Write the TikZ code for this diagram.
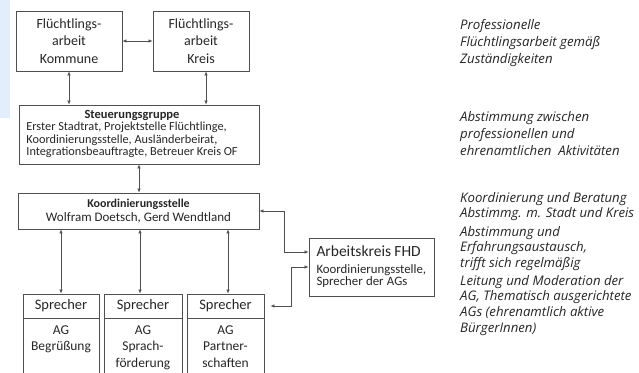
\documentclass[tikz,border=0pt]{standalone}
\usepackage{fontspec}
\setmainfont{Carlito}
\newfontfamily\notefont{Open Sans}
\usetikzlibrary{arrows.meta,positioning}
\definecolor{linegray}{HTML}{505050}
\definecolor{inkgray}{HTML}{262626}
\definecolor{stripblue}{RGB}{226,238,251}

\begin{document}
\begin{tikzpicture}[x=1pt, y=-1pt, text=inkgray,
box/.style={draw=linegray, line width=0.8pt, align=center, inner sep=1pt},
sprecher/.style={box, minimum height=24pt, font=\fontsize{14.5}{17}\selectfont},
agbox/.style={draw=linegray, line width=0.8pt, anchor=north, minimum height=56pt},
agtext/.style={align=center, font=\fontsize{13.5}{16.5}\selectfont, inner sep=2pt},
note/.style={anchor=north west, align=left, inner sep=0pt, font=\notefont\itshape\fontsize{13.2}{#1}\selectfont},
note/.default=17,
arrow/.style={>={Latex[length=4pt,width=3.5pt]}, <->, draw=linegray, line width=0.7pt}]
\useasboundingbox (0,0) rectangle (639,372);
\fill[stripblue] (0,0) rectangle (10,118);

% professional level
\node[box, minimum width=106pt, minimum height=60pt, font=\fontsize{14}{17.5}\selectfont] (kommune) at (69,41) {Flüchtlings-\\arbeit\\Kommune};
\node[box, minimum width=96pt, minimum height=60pt, font=\fontsize{14}{17.5}\selectfont] (kreis) at (201,41) {Flüchtlings-\\arbeit\\Kreis};
\node[box, minimum width=240pt, minimum height=59pt, font=\fontsize{12.3}{12.4}\selectfont] (steuer) at (139,134.5)
  {\begin{tabular}{@{}l@{\hspace{14pt}}}
   \multicolumn{1}{@{}c@{\hspace{14pt}}}{\fontsize{12.5}{12.4}\selectfont\bfseries Steuerungsgruppe}\\
   Erster Stadtrat, Projektstelle Flüchtlinge,\\
   Koordinierungsstelle, Ausländerbeirat,\\
   Integrationsbeauftragte, Betreuer Kreis OF
   \end{tabular}};
\node[box, minimum width=241pt, minimum height=36pt, font=\fontsize{13}{14}\selectfont] (koord) at (138.5,211)
  {{\fontsize{12}{14}\selectfont\bfseries Koordinierungsstelle}\\Wolfram Doetsch, Gerd Wendtland};

% AGs
\node[sprecher, minimum width=76pt] (sp1) at (61,306) {Sprecher};
\node[sprecher, minimum width=78pt] (sp2) at (143,306) {Sprecher};
\node[sprecher, minimum width=77pt] (sp3) at (225.5,306) {Sprecher};
\node[agbox, minimum width=76pt] (ag1) at (sp1.south) {};
\node[agbox, minimum width=78pt] (ag2) at (sp2.south) {};
\node[agbox, minimum width=77pt] (ag3) at (sp3.south) {};
\node[agtext, below=5pt of ag1.north] (ag1txt) {AG\\Begrüßung};
\node[agtext, below=5pt of ag2.north] (ag2txt) {AG\\Sprach-\\förderung};
\node[agtext, below=5pt of ag3.north] (ag3txt) {AG\\Partner-\\schaften};

\node[box, minimum width=125pt, minimum height=58pt, inner xsep=7pt, text width=110pt, align=left] (fhd) at (371.5,267)
  {{\fontsize{15.5}{17}\selectfont Arbeitskreis FHD}\\[1pt]{\fontsize{12.8}{16}\selectfont Koordinierungsstelle,\\Sprecher der AGs}};

% notes
\node[note] (note1) at (460,19) {Professionelle\\Flüchtlingsarbeit gemäß\\Zuständigkeiten};
\node[note] (note2) at (460,111) {Abstimmung zwischen\\professionellen und\\ehrenamtlichen\ \ Aktivitäten};
\node[note=15.5] (note3) at (460,192) {Koordinierung und Beratung\\Abstimmg. m. Stadt und Kreis};
\node[note=15.5] (note4) at (460,226) {Abstimmung und\\Erfahrungsaustausch,\\trifft sich regelmäßig};
\node[note=15.7] (note5) at (460,275) {Leitung und Moderation der\\AG, Thematisch ausgerichtete\\AGs (ehrenamtlich aktive\\BürgerInnen)};

% connectors
\draw[arrow] (kommune.east) -- (kreis.west);
\draw[arrow] (kommune.south) -- (kommune.south |- steuer.north);
\draw[arrow] ([xshift=5pt]kreis.south) -- ([xshift=5pt]kreis.south |- steuer.north);
\draw[arrow] (steuer.south) -- (steuer.south |- koord.north);
\draw[arrow] (koord.south -| sp1.north) -- (sp1.north);
\draw[arrow] ([xshift=-3pt]koord.south -| sp2.north) -- ([xshift=-3pt]sp2.north);
\draw[arrow] ([xshift=2.5pt]koord.south -| sp3.north) -- ([xshift=2.5pt]sp3.north);
\draw[arrow] (koord.east) -- ++(25,0) |- ([yshift=15pt]fhd.west);
\draw[arrow] ([xshift=6pt]sp3.east) -- ++(21,0) |- (fhd.west);
\end{tikzpicture}
\end{document}
